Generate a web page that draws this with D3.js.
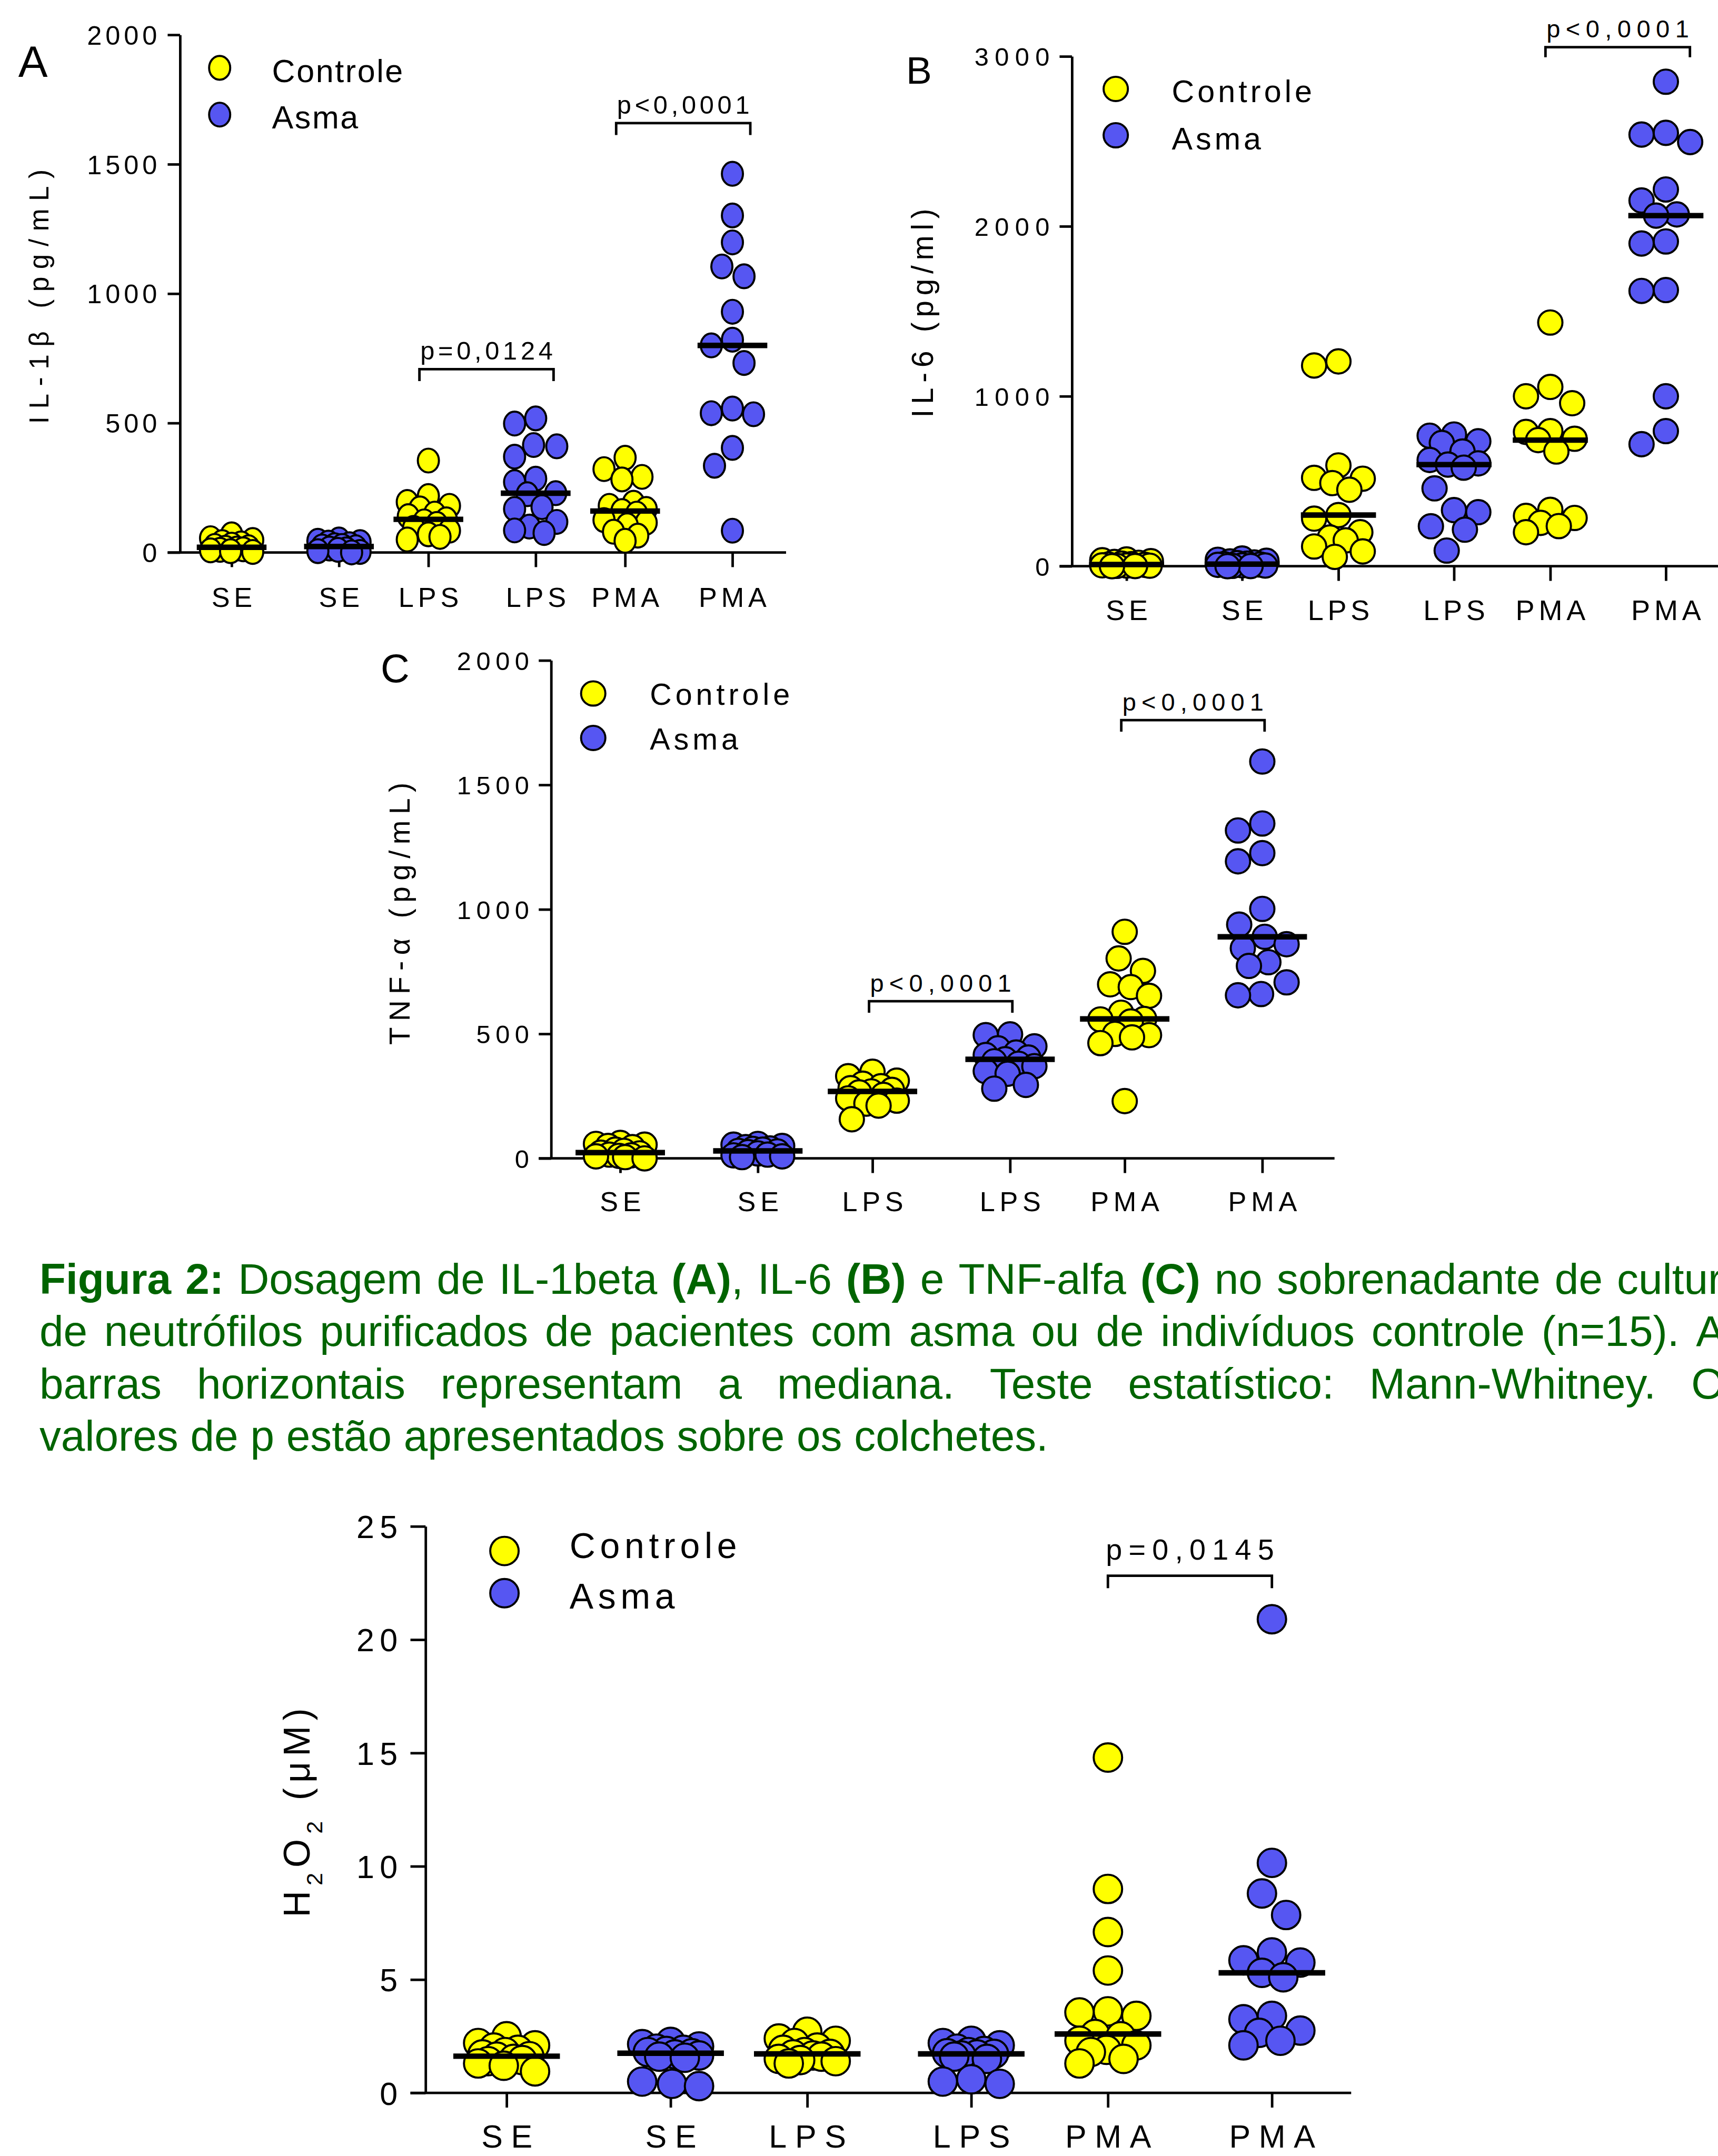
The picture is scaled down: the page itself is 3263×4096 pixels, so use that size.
<!DOCTYPE html>
<html>
<head>
<meta charset="utf-8">
<script src="https://cdnjs.cloudflare.com/ajax/libs/d3/7.8.5/d3.min.js"></script>
<style>
  body { margin: 0; background: #fff; }
  svg { display: block; }
</style>
</head>
<body>
<script>
// dot plots of cytokines / H2O2 in neutrophil supernatants, controle vs asma
// every column has n=15, horizontal bar = median

var categories = ["SE", "SE", "LPS", "LPS", "PMA", "PMA"];
var legendLabels = ["Controle", "Asma"];
var groupColors = ["#ffff00", "#5656f2"];

// IL-1beta (pg/mL) - one array per column, left to right
var il1bValues = [
  [70, 55, 48, 40, 35, 30, 25, 20, 18, 15, 12, 10, 8, 5, 2],
  [50, 45, 40, 38, 32, 28, 25, 23, 20, 15, 12, 10, 5, 2, 0],
  [355, 218, 195, 180, 170, 150, 140, 128, 120, 110, 95, 84, 70, 60, 50],
  [518, 498, 415, 410, 370, 285, 272, 229, 225, 175, 168, 118, 100, 85, 75],
  [366, 322, 292, 282, 192, 180, 168, 160, 150, 125, 115, 105, 80, 65, 45],
  [1463, 1302, 1198, 1105, 1067, 930, 822, 800, 732, 556, 538, 534, 404, 335, 84]
];
var il1bTicks = [0, 500, 1000, 1500, 2000];
var il1bBrackets = [
  {from: 2, to: 3, level: 708, label: "p=0,0124"},
  {from: 4, to: 5, level: 1659, label: "p<0,0001"}
];
var il1bTitle = [["IL-1β (pg/mL)", false]];

// IL-6 (pg/ml)
var il6Values = [
  [40, 35, 30, 25, 20, 15, 12, 10, 8, 5, 4, 3, 2, 1, 0],
  [45, 38, 32, 28, 22, 18, 15, 12, 10, 8, 5, 4, 2, 1, 0],
  [1205, 1181, 593, 520, 515, 489, 450, 301, 280, 200, 169, 152, 116, 87, 55],
  [775, 768, 735, 725, 675, 625, 605, 598, 580, 458, 330, 318, 235, 215, 92],
  [1434, 1055, 1000, 959, 795, 790, 750, 742, 675, 332, 296, 284, 255, 236, 200],
  [2851, 2550, 2540, 2496, 2217, 2152, 2070, 2063, 1911, 1899, 1625, 1620, 1000, 795, 718]
];
var il6Ticks = [0, 1000, 2000, 3000];
var il6Brackets = [
  {from: 4, to: 5, level: 3054, label: "p<0,0001"}
];
var il6Title = [["IL-6 (pg/ml)", false]];

// TNF-alfa (pg/mL)
var tnfValues = [
  [62, 58, 55, 50, 45, 35, 30, 23, 20, 15, 12, 10, 8, 5, 0],
  [58, 55, 50, 45, 40, 38, 35, 30, 28, 25, 20, 15, 12, 8, 5],
  [348, 330, 312, 300, 290, 282, 275, 269, 265, 255, 241, 232, 220, 212, 157],
  [498, 495, 450, 442, 425, 415, 405, 398, 390, 380, 370, 350, 340, 295, 280],
  [910, 803, 753, 699, 688, 653, 585, 560, 558, 550, 500, 495, 486, 463, 230],
  [1594, 1345, 1317, 1226, 1193, 1002, 939, 890, 860, 844, 788, 773, 707, 660, 655]
];
var tnfTicks = [0, 500, 1000, 1500, 2000];
var tnfBrackets = [
  {from: 2, to: 3, level: 631, label: "p<0,0001"},
  {from: 4, to: 5, level: 1760, label: "p<0,0001"}
];
var tnfTitle = [["TNF-α (pg/mL)", false]];

// H2O2 (uM)
var h2o2Values = [
  [2.5, 2.2, 2.1, 2.0, 1.9, 1.8, 1.7, 1.62, 1.6, 1.5, 1.45, 1.4, 1.3, 1.2, 0.95],
  [2.25, 2.15, 2.05, 1.95, 1.9, 1.85, 1.8, 1.75, 1.7, 1.65, 1.6, 1.55, 0.5, 0.4, 0.3],
  [2.7, 2.4, 2.3, 2.2, 2.0, 1.9, 1.8, 1.72, 1.7, 1.65, 1.6, 1.5, 1.45, 1.4, 1.3],
  [2.3, 2.2, 2.1, 1.95, 1.85, 1.8, 1.75, 1.72, 1.7, 1.65, 1.6, 1.5, 0.6, 0.5, 0.4],
  [14.8, 9.0, 7.1, 5.4, 3.6, 3.55, 3.4, 2.6, 2.5, 2.3, 2.1, 1.9, 1.8, 1.5, 1.3],
  [20.9, 10.15, 8.8, 7.85, 6.2, 5.85, 5.75, 5.3, 5.1, 3.4, 3.25, 2.75, 2.65, 2.3, 2.1]
];
var h2o2Ticks = [0, 5, 10, 15, 20, 25];
var h2o2Brackets = [
  {from: 4, to: 5, level: 22.82, label: "p=0,0145"}
];
var h2o2Title = [["H", false], ["2", true], ["O", false], ["2", true], [" (μM)", false]];

// caption, [text, bold] pieces per line
var captionLines = [
  [["Figura 2:", true], [" Dosagem de IL-1beta ", false], ["(A)", true], [", IL-6 ", false], ["(B)", true],
   [" e TNF-alfa ", false], ["(C)", true], [" no sobrenadante de cultura", false]],
  [["de neutrófilos purificados de pacientes com asma ou de indivíduos controle (n=15). As", false]],
  [["barras horizontais representam a mediana. Teste estatístico: Mann-Whitney. Os", false]],
  [["valores de p estão apresentados sobre os colchetes.", false]]
];

///////////////////////////////////////////////////////////////////////////////
// layout, in reference pixels (the whole thing is scaled down at the end)

var SCALE = 0.871;
var FONT = "Arial, 'Liberation Sans', Helvetica, sans-serif";
var AXIS_W = 5.5, DOT_W = 4.5, MED_W = 12, MED_LEN = 0.78;
var slots = [0, 1.2, 2.2, 3.4, 4.4, 5.6]; // column centers in column units

var layoutA = {axisX: 392.6, y0: 1205, yTop: 76, unit: 195, off: 0.577, end: 6.2,
  yTick: 27, xTick: 32, rx: 23, ry: 26,
  tickFont: 58, tickLs: 8, tickGap: 23, catFont: 60, catLs: 9, catBase: 1324,
  legX: 479, legY: [148, 250], legTextX: 593, legBase: [179, 280], legFont: 70, legLs: 3,
  letter: "A", letterX: 40, letterBase: 168, letterFont: 96,
  titleX: 106, titleY: 647, titleFont: 59, titleLen: 555,
  pFont: 56, pLs: 7.7, pGap: 21, leg: 26, brExt: [0.1, 0.2]};

var layoutB = {axisX: 2337.5, y0: 1235, yTop: 123, unit: 210, off: 0.567, end: 6.5,
  yTick: 27, xTick: 32, rx: 26.5, ry: 26.5,
  tickFont: 56, tickLs: 13, tickGap: 22, catFont: 62, catLs: 9, catBase: 1353,
  legX: 2433, legY: [194, 295], legTextX: 2555, legBase: [223, 326], legFont: 68, legLs: 7,
  letter: "B", letterX: 1976, letterBase: 183, letterFont: 84,
  titleX: 2035, titleY: 683, titleFont: 65, titleLen: 456,
  pFont: 54, pLs: 12, pGap: 22, leg: 22, brExt: [0.05, 0.25]};

var layoutC = {axisX: 1201.8, y0: 2526.6, yTop: 1440.5, unit: 250, off: 0.603, end: 6.23,
  yTick: 27, xTick: 32, rx: 26.5, ry: 26.5,
  tickFont: 56, tickLs: 11, tickGap: 21, catFont: 60, catLs: 10, catBase: 2641.8,
  legX: 1293.6, legY: [1512.6, 1609.6], legTextX: 1417, legBase: [1537.5, 1635.3], legFont: 66, legLs: 8,
  letter: "C", letterX: 830, letterBase: 1488, letterFont: 87,
  titleX: 893, titleY: 1993, titleFont: 63, titleLen: 572,
  pFont: 54, pLs: 11.6, pGap: 20.5, leg: 25, brExt: [0.03, 0.02]};

var layoutD = {axisX: 928, y0: 4565, yTop: 3329.3, unit: 298, off: 0.593, end: 6.18,
  yTick: 33, xTick: 32, rx: 31, ry: 31,
  tickFont: 70, tickLs: 12, tickGap: 28, catFont: 70, catLs: 18, catBase: 4684,
  legX: 1100, legY: [3383, 3475], legTextX: 1242, legBase: [3398, 3509], legFont: 78, legLs: 10,
  letter: null,
  titleX: 675, titleY: 3954, titleFont: 80, titleLen: 456,
  pFont: 64, pLs: 14, pGap: 35, leg: 27, brExt: [0, 0]};

var captionLayout = {left: 86, right: 3808, font: 94, color: "#006400",
  base: [2822, 2936, 3050, 3164], justify: [true, true, true, false]};

var svg = d3.select("body").append("svg")
            .attr("width", 3263)
            .attr("height", 4096);

var root = svg.append("g")
              .attr("transform", "scale(" + SCALE + ")")
              .attr("font-family", FONT);

drawPanel(layoutA, il1bValues, il1bTicks, il1bBrackets, il1bTitle);
drawPanel(layoutB, il6Values, il6Ticks, il6Brackets, il6Title);
drawPanel(layoutC, tnfValues, tnfTicks, tnfBrackets, tnfTitle);
drawPanel(layoutD, h2o2Values, h2o2Ticks, h2o2Brackets, h2o2Title);
drawCaption(captionLayout);

///////////////////////////////////////////////////////////////////////////////

// simple beeswarm: put each point as close to the column center as it can,
// squeeze them together when there is no room left (like the prism plots)
function swarm(vals, y, rx, ry)
{
  var maxOff = 1.0, step = 0.05, sep = 1.12;
  var cands = [0];
  for (var k = 1; k * step <= maxOff + 1e-9; k++) {
    cands.push(-k * step, k * step);
  }
  var order = vals.map(function(v, i) { return i; })
                  .sort(function(a, b) { return vals[b] - vals[a]; });
  var placed = [];
  order.forEach(function(i) {
    var py = y(vals[i]);
    var best = 0, bestD = -1;
    for (var c = 0; c < cands.length; c++) {
      var cx = cands[c], dmin = Infinity;
      placed.forEach(function(q) {
        var dx = cx - q.o, dy = (py - q.py) / (2 * ry);
        dmin = Math.min(dmin, Math.sqrt(dx * dx + dy * dy));
      });
      if (dmin >= sep) { best = cx; bestD = dmin; break; }
      if (dmin > bestD) { bestD = dmin; best = cx; }
    }
    placed.push({v: vals[i], py: py, o: best, dx: best * 2 * rx});
  });
  return placed;
}

function styleAxis(sel)
{
  sel.attr("font-family", FONT);
  sel.select(".domain").attr("stroke-width", AXIS_W).attr("stroke", "#000");
  sel.selectAll(".tick line").attr("stroke-width", AXIS_W).attr("stroke", "#000");
  sel.selectAll(".tick text").attr("fill", "#000");
}

function drawPanel(p, values, ticks, brackets, title)
{
  var g = root.append("g");

  var x = d3.scaleLinear()
            .domain([-p.off, p.end])
            .range([p.axisX, p.axisX + (p.end + p.off) * p.unit]);
  var y = d3.scaleLinear()
            .domain([0, ticks[ticks.length - 1]])
            .range([p.y0, p.yTop]);

  // y axis
  var ya = g.append("g")
            .attr("transform", "translate(" + p.axisX + ",0)")
            .call(d3.axisLeft(y).tickValues(ticks).tickSize(p.yTick)
                    .tickSizeOuter(0).tickPadding(p.tickGap).tickFormat(d3.format("d")));
  styleAxis(ya);
  ya.selectAll(".tick text")
    .attr("font-size", p.tickFont)
    .attr("letter-spacing", p.tickLs)
    .attr("dx", p.tickLs)
    .attr("dy", "0.36em");

  // x axis, the line starts under the 0 tick
  var xa = g.append("g")
            .attr("transform", "translate(0," + p.y0 + ")")
            .call(d3.axisBottom(x).tickValues(slots).tickSize(p.xTick).tickSizeOuter(0)
                    .tickFormat(function(d, i) { return categories[i]; }));
  styleAxis(xa);
  xa.select(".domain").attr("d", "M" + (p.axisX - p.yTick) + ",0H" + x(p.end));
  xa.selectAll(".tick text")
    .attr("font-size", p.catFont)
    .attr("letter-spacing", p.catLs)
    .attr("dx", p.catLs / 2)
    .attr("y", p.catBase - p.y0)
    .attr("dy", null);

  // dots + median bar
  values.forEach(function(vals, i) {
    var cx = x(slots[i]);
    var pts = swarm(vals, y, p.rx, p.ry);
    g.append("g")
     .selectAll("ellipse")
     .data(pts)
     .enter()
     .append("ellipse")
     .attr("cx", function(d) { return cx + d.dx; })
     .attr("cy", function(d) { return d.py; })
     .attr("rx", p.rx)
     .attr("ry", p.ry)
     .attr("fill", groupColors[i % 2])
     .attr("stroke", "#000")
     .attr("stroke-width", DOT_W);

    var med = d3.median(vals);
    g.append("line")
     .attr("x1", x(slots[i] - MED_LEN / 2))
     .attr("x2", x(slots[i] + MED_LEN / 2))
     .attr("y1", y(med))
     .attr("y2", y(med))
     .attr("stroke", "#000")
     .attr("stroke-width", MED_W);
  });

  // significance brackets
  brackets.forEach(function(b) {
    var x1 = x(slots[b.from] - p.brExt[0]),
        x2 = x(slots[b.to] + p.brExt[1]),
        by = y(b.level);
    g.append("path")
     .attr("d", "M" + x1 + "," + (by + p.leg) + "V" + by + "H" + x2 + "V" + (by + p.leg))
     .attr("fill", "none")
     .attr("stroke", "#000")
     .attr("stroke-width", AXIS_W);
    g.append("text")
     .attr("x", (x1 + x2) / 2)
     .attr("y", by - p.pGap)
     .attr("text-anchor", "middle")
     .attr("font-size", p.pFont)
     .attr("letter-spacing", p.pLs)
     .attr("dx", p.pLs / 2)
     .text(b.label);
  });

  // legend
  legendLabels.forEach(function(lab, k) {
    g.append("ellipse")
     .attr("cx", p.legX)
     .attr("cy", p.legY[k])
     .attr("rx", p.rx)
     .attr("ry", p.ry)
     .attr("fill", groupColors[k])
     .attr("stroke", "#000")
     .attr("stroke-width", DOT_W);
    g.append("text")
     .attr("x", p.legTextX)
     .attr("y", p.legBase[k])
     .attr("font-size", p.legFont)
     .attr("letter-spacing", p.legLs)
     .text(lab);
  });

  // y title, rotated
  var t = g.append("text")
           .attr("transform", "translate(" + p.titleX + "," + p.titleY + ") rotate(-90)")
           .attr("text-anchor", "middle")
           .attr("font-size", p.titleFont)
           .attr("textLength", p.titleLen)
           .attr("lengthAdjust", "spacing");
  title.forEach(function(s) {
    var ts = t.append("tspan").text(s[0]);
    if (s[1]) ts.attr("baseline-shift", "sub").attr("font-size", p.titleFont * 0.62);
  });

  // panel letter
  if (p.letter) {
    g.append("text")
     .attr("x", p.letterX)
     .attr("y", p.letterBase)
     .attr("font-size", p.letterFont)
     .text(p.letter);
  }
}

// split [text,bold] pieces into words (a word can mix bold and normal parts)
function toWords(segs)
{
  var words = [[]];
  segs.forEach(function(s) {
    s[0].split(" ").forEach(function(part, j) {
      if (j > 0) words.push([]);
      if (part.length) words[words.length - 1].push([part, s[1]]);
    });
  });
  return words.filter(function(w) { return w.length; });
}

// caption, lines justified like in the document
function drawCaption(c)
{
  var g = root.append("g")
              .attr("fill", c.color)
              .attr("font-size", c.font);

  captionLines.forEach(function(segs, li) {
    var words = toWords(segs);
    var nodes = words.map(function(w) {
      var t = g.append("text").attr("y", c.base[li]);
      w.forEach(function(s) {
        t.append("tspan").attr("font-weight", s[1] ? "bold" : null).text(s[0]);
      });
      return t;
    });
    var widths = nodes.map(function(t) { return t.node().getComputedTextLength(); });
    var gap = c.justify[li] ? (c.right - c.left - d3.sum(widths)) / (words.length - 1)
                            : c.font * 0.278;
    var cx = c.left;
    nodes.forEach(function(t, j) {
      t.attr("x", cx);
      cx += widths[j] + gap;
    });
  });
}
</script>
</body>
</html>
